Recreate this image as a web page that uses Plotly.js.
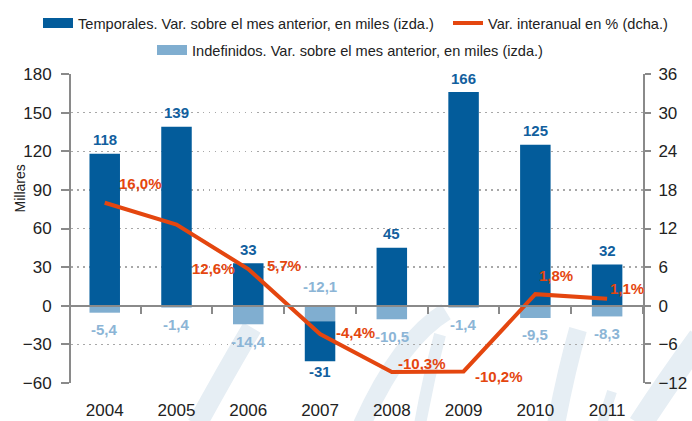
<!DOCTYPE html>
<html>
<head>
<meta charset="utf-8">
<script src="https://cdn.plot.ly/plotly-3.0.1.min.js"></script>
<style>
  html, body { margin: 0; padding: 0; background: #fff; }
  #chart { width: 692px; height: 421px; }
</style>
</head>
<body>
<div id="chart"></div>
<script>
// ---- data ----
const years = ['2004', '2005', '2006', '2007', '2008', '2009', '2010', '2011'];
const temporales = [118, 139, 33, -31, 45, 166, 125, 32];
const indefinidos = [-5.4, -1.4, -14.4, -12.1, -10.5, -1.4, -9.5, -8.3];
const interanual = [16.0, 12.6, 5.7, -4.4, -10.3, -10.2, 1.8, 1.1];
const leftTicks = [-60, -30, 0, 30, 60, 90, 120, 150, 180];
const rightTicks = [-12, -6, 0, 6, 12, 18, 24, 30, 36];

const names = {
  temp: 'Temporales. Var. sobre el mes anterior, en miles (izda.)',
  indef: 'Indefinidos. Var. sobre el mes anterior, en miles (izda.)',
  inter: 'Var. interanual en % (dcha.)'
};

// ---- style ----
const W = 692, H = 421;
const M = { l: 71, r: 49, t: 74, b: 37.5 };
const C_DARK = '#035c9b';
const C_LIGHT = '#80aed0';
const C_LINE = '#e4460f';
const C_AXIS = '#8a8a8a';
const C_WM = '#e6eef4';
const FONT = 'Liberation Sans, Arial, Helvetica, sans-serif';
// label offsets for the % labels (pixels, relative to each point)
const lineLabelShift = [[36, 19], [37, -44], [36, 4], [35, 2], [30, 9], [35, -5], [21, 19], [20, 10]];

const fmt1 = v => v.toFixed(1).replace('.', ',');

const traces = [
  { type: 'bar', x: years, y: indefinidos, name: names.indef, marker: { color: C_LIGHT },
    width: 0.425, showlegend: false, hoverinfo: 'skip' },
  { type: 'bar', x: years, y: temporales, name: names.temp, marker: { color: C_DARK },
    width: 0.425, showlegend: false, hoverinfo: 'skip' },
  // legend swatches (drawn on the zero-line axis so that it exists)
  { type: 'scatter', mode: 'lines', x: [null], y: [null], xaxis: 'x2', name: names.temp,
    line: { color: C_DARK, width: 11 }, legend: 'legend' },
  { type: 'scatter', mode: 'lines', x: years, y: interanual, yaxis: 'y2', name: names.inter,
    line: { color: C_LINE, width: 4 }, legend: 'legend3', hoverinfo: 'skip' },
  { type: 'scatter', mode: 'lines', x: [null], y: [null], xaxis: 'x2', name: names.indef,
    line: { color: C_LIGHT, width: 11 }, legend: 'legend2' }
];

const annotations = [];
years.forEach((yr, i) => {
  const t = temporales[i], d = indefinidos[i];
  const end = t >= 0 ? t : t + d;
  annotations.push({ x: i, y: end, xref: 'x', yref: 'y', text: String(t), showarrow: false,
    xanchor: 'center', yanchor: 'middle',
    yshift: t >= 0 ? 14 : -10, font: { family: FONT, size: 15, color: '#125f9e', weight: 'bold' } });
  annotations.push({ x: i, y: t < 0 ? 0 : d, xref: 'x', yref: 'y', text: fmt1(d), showarrow: false,
    xanchor: 'center', yanchor: 'middle',
    yshift: t < 0 ? 19 : -17, font: { family: FONT, size: 15, color: '#8cb5d6', weight: 'bold' } });
  annotations.push({ x: i, y: interanual[i], xref: 'x', yref: 'y2', text: fmt1(interanual[i]) + '%',
    showarrow: false, xanchor: 'center', yanchor: 'middle',
    xshift: lineLabelShift[i][0], yshift: lineLabelShift[i][1],
    font: { family: FONT, size: 15, color: C_LINE, weight: 'bold' } });
});
annotations.push({ text: 'Millares', xref: 'paper', yref: 'paper', x: -0.089, y: 0.63,
  xanchor: 'center', yanchor: 'middle',
  textangle: -90, showarrow: false, font: { family: FONT, size: 14, color: '#222' } });

// faint background watermark strokes (decoration), given in page pixels
const px = x => (x - M.l) / (W - M.l - M.r);
const py = y => (H - M.b - y) / (H - M.t - M.b);
const wmStrokes = [
  { d: [[252, 328], [226, 372], [197, 425]], w: 20 },
  { d: [[446, 312], [400, 340], [362, 425]], w: 18 },
  { d: [[440, 335], [428, 380], [420, 425]], w: 12 },
  { d: [[578, 330], [566, 372], [556, 425]], w: 18 },
  { d: [[612, 392], [606, 410], [602, 425]], w: 10 },
  { d: [[700, 338], [668, 382], [640, 425]], w: 24 }
];
const shapes = wmStrokes.map(s => ({
  type: 'path', xref: 'paper', yref: 'paper', layer: 'below',
  path: `M ${px(s.d[0][0])} ${py(s.d[0][1])} Q ${px(s.d[1][0])} ${py(s.d[1][1])} ${px(s.d[2][0])} ${py(s.d[2][1])}`,
  line: { color: C_WM, width: s.w }
}));

const GRID_DASH = '1.5px,4.5px';
const legFont = { family: FONT, size: 14.6, color: '#222' };

const layout = {
  width: W, height: H,
  margin: { l: M.l, r: M.r, t: M.t, b: M.b, pad: 0 },
  paper_bgcolor: '#fff', plot_bgcolor: 'rgba(0,0,0,0)',
  barmode: 'relative',
  showlegend: true,
  font: { family: FONT, color: '#222' },
  legend: { orientation: 'h', xref: 'container', x: 38 / W, xanchor: 'left', yref: 'container', y: 1 - 23 / H, yanchor: 'middle',
    font: legFont, bgcolor: 'rgba(0,0,0,0)' },
  legend3: { orientation: 'h', xref: 'container', x: 448 / W, xanchor: 'left', yref: 'container', y: 1 - 23 / H, yanchor: 'middle',
    font: legFont, bgcolor: 'rgba(0,0,0,0)' },
  legend2: { orientation: 'h', xref: 'container', x: 152 / W, xanchor: 'left', yref: 'container', y: 1 - 50 / H, yanchor: 'middle',
    font: legFont, bgcolor: 'rgba(0,0,0,0)' },
  xaxis: { type: 'category', range: [-0.47, 7.5], showgrid: false, showline: false, zeroline: false,
    ticks: '', ticklabelstandoff: 15, tickfont: { family: FONT, size: 17, color: '#222' }, fixedrange: true },
  xaxis2: { type: 'linear', overlaying: 'x', anchor: 'free', position: 0.25, range: [-0.47, 7.5], autorange: false,
    tick0: -0.5, dtick: 1,
    ticks: 'outside', ticklen: 7, tickwidth: 2, tickcolor: C_AXIS, showticklabels: false,
    showline: true, linecolor: C_AXIS, linewidth: 2, showgrid: false, zeroline: false, side: 'bottom' },
  yaxis: { range: [-60, 180], tickvals: leftTicks, ticks: 'outside', ticklen: 8, tickwidth: 2, tickcolor: C_AXIS,
    showline: true, linecolor: C_AXIS, linewidth: 2, showgrid: true, gridcolor: '#a8a8a8', griddash: GRID_DASH, gridwidth: 1.3,
    zeroline: false, ticklabelstandoff: 6, tickfont: { family: FONT, size: 17, color: '#222' }, fixedrange: true },
  yaxis2: { range: [-12, 36], tickvals: rightTicks, overlaying: 'y', side: 'right', ticks: 'outside', ticklen: 6,
    tickwidth: 2, tickcolor: C_AXIS, showline: true, linecolor: C_AXIS, linewidth: 2, showgrid: false, zeroline: false,
    ticklabelstandoff: 4, tickfont: { family: FONT, size: 17, color: '#222' }, fixedrange: true },
  shapes: shapes,
  annotations: annotations
};

Plotly.newPlot('chart', traces, layout, { displayModeBar: false, staticPlot: true });
</script>
</body>
</html>
